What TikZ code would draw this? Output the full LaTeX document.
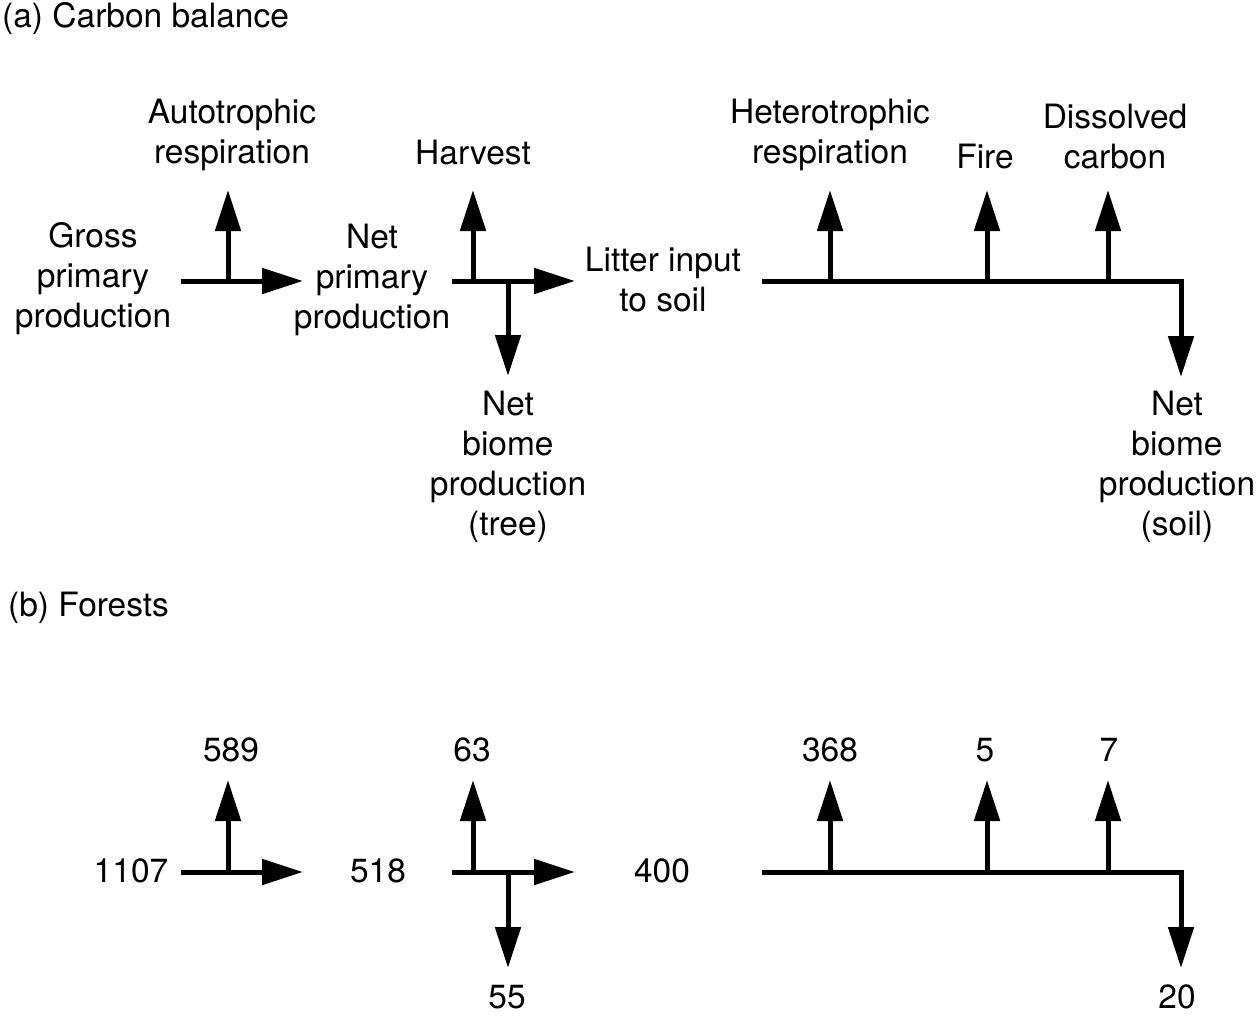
\documentclass[tikz,border=0pt]{standalone}
\usepackage{fontspec}
\setmainfont{TeX Gyre Heros}
\usetikzlibrary{arrows.meta}
\begin{document}
\begin{tikzpicture}[x=1pt,y=-1pt,
  lbl/.style={font=\fontsize{33.5}{40}\selectfont, align=center, inner sep=0pt},
  flow/.style={line width=5pt, line join=miter, -{Triangle[length=41pt,width=25pt]}}]
\useasboundingbox (0,0) rectangle (1256,1015);

% ---------- (a) Carbon balance ----------
\node[lbl, anchor=west] (ta) at (2,19) {(a) Carbon balance};
\node[lbl] (gpp) at (93,279) {Gross\\primary\\production};
\node[lbl] (ar)  at (232,135) {Autotrophic\\respiration};
\node[lbl] (npp) at (372,280) {Net\\primary\\production};
\node[lbl] (hv)  at (473,153) {Harvest};
\node[lbl] (lit) at (663,280) {Litter input\\to soil};
\node[lbl] (hr)  at (830,135) {Heterotrophic\\respiration};
\node[lbl] (fi)  at (985,157) {Fire};
\node[lbl] (dc)  at (1115,137) {Dissolved\\carbon};
\node[lbl] (nbt) at (508,467) {Net\\biome\\production\\(tree)};
\node[lbl] (nbs) at (1177,467) {Net\\biome\\production\\(soil)};

\coordinate (a1s) at (181,281);  \coordinate (a1e) at (303,281);
\coordinate (a1j) at (228,281);  \coordinate (a1u) at (228,190);
\coordinate (a2s) at (452,281);  \coordinate (a2e) at (575,281);
\coordinate (a2j) at (473,281);  \coordinate (a2u) at (473,190);
\coordinate (a2k) at (508,281);  \coordinate (a2d) at (508,376);
\coordinate (a3s) at (762,281);  \coordinate (a3c) at (1181,281);
\coordinate (a3d) at (1181,377);
\coordinate (a3j1) at (830,281); \coordinate (a3u1) at (830,190);
\coordinate (a3j2) at (987,281); \coordinate (a3u2) at (987,190);
\coordinate (a3j3) at (1108,281); \coordinate (a3u3) at (1108,190);

\draw[flow] (a1s) -- (a1e);
\draw[flow] (a1j) -- (a1u);
\draw[flow] (a2s) -- (a2e);
\draw[flow] (a2j) -- (a2u);
\draw[flow] (a2k) -- (a2d);
\draw[flow] (a3s) -- (a3c) -- (a3d);
\draw[flow] (a3j1) -- (a3u1);
\draw[flow] (a3j2) -- (a3u2);
\draw[flow] (a3j3) -- (a3u3);

% ---------- (b) Forests ----------
\node[lbl, anchor=west] (tb) at (8,608) {(b) Forests};
\node[lbl] (b1107) at (131,871) {1107};
\node[lbl] (b589)  at (231,750) {589};
\node[lbl] (b518)  at (378,871) {518};
\node[lbl] (b63)   at (472,750) {63};
\node[lbl] (b400)  at (662,871) {400};
\node[lbl] (b55)   at (507,997) {55};
\node[lbl] (b368)  at (830,750) {368};
\node[lbl] (b5)    at (985,750) {5};
\node[lbl] (b7)    at (1109,750) {7};
\node[lbl] (b20)   at (1177,997) {20};

\coordinate (b1s) at (181,872);  \coordinate (b1e) at (303,872);
\coordinate (b1j) at (228,872);  \coordinate (b1u) at (228,780);
\coordinate (b2s) at (452,872);  \coordinate (b2e) at (575,872);
\coordinate (b2j) at (473,872);  \coordinate (b2u) at (473,780);
\coordinate (b2k) at (508,872);  \coordinate (b2d) at (508,968);
\coordinate (b3s) at (762,872);  \coordinate (b3c) at (1181,872);
\coordinate (b3d) at (1181,968);
\coordinate (b3j1) at (830,872); \coordinate (b3u1) at (830,780);
\coordinate (b3j2) at (987,872); \coordinate (b3u2) at (987,780);
\coordinate (b3j3) at (1108,872); \coordinate (b3u3) at (1108,780);

\draw[flow] (b1s) -- (b1e);
\draw[flow] (b1j) -- (b1u);
\draw[flow] (b2s) -- (b2e);
\draw[flow] (b2j) -- (b2u);
\draw[flow] (b2k) -- (b2d);
\draw[flow] (b3s) -- (b3c) -- (b3d);
\draw[flow] (b3j1) -- (b3u1);
\draw[flow] (b3j2) -- (b3u2);
\draw[flow] (b3j3) -- (b3u3);
\end{tikzpicture}
\end{document}
